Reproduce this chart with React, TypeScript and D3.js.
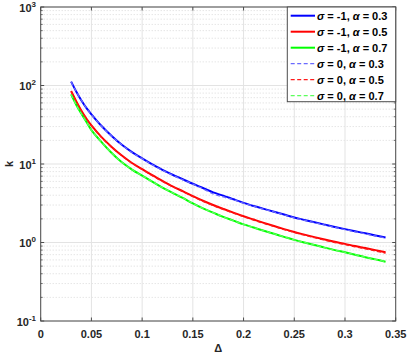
import React from "react";
import * as d3 from "d3";

const DELTA = [0.03,0.035,0.04,0.045,0.05,0.06,0.07,0.08,0.09,0.10,0.11,0.12,0.13,0.14,0.15,0.16,0.17,0.18,0.19,0.20,0.21,0.22,0.23,0.24,0.25,0.26,0.27,0.28,0.29,0.30,0.31,0.32,0.33,0.34];

const K_S1_A03 = [112,84,65,52,43,30.5,22.8,17.6,14.2,11.8,9.9,8.4,7.3,6.4,5.6,4.95,4.35,3.95,3.55,3.2,2.92,2.68,2.47,2.27,2.08,1.94,1.81,1.69,1.58,1.48,1.39,1.31,1.23,1.16];
const K_S1_A05 = [85,63,48,38,31,22,16.5,12.8,10.3,8.6,7.2,6.1,5.2,4.5,3.9,3.4,3.0,2.68,2.4,2.16,1.96,1.78,1.62,1.48,1.36,1.26,1.17,1.09,1.02,0.96,0.9,0.85,0.8,0.75];
const K_S1_A07 = [77,57,44,34.5,27,19,13.8,10.5,8.5,7.1,5.95,5.0,4.3,3.7,3.15,2.72,2.4,2.12,1.9,1.7,1.55,1.41,1.29,1.18,1.08,1.0,0.93,0.86,0.8,0.75,0.7,0.65,0.61,0.57];
const K_S0_A03 = [111,84,65,52,42.5,30.3,22.6,17.5,14.0,11.7,9.8,8.3,7.2,6.3,5.55,4.85,4.15,3.8,3.5,3.17,2.9,2.65,2.45,2.25,2.06,1.92,1.79,1.67,1.56,1.46,1.37,1.29,1.21,1.14];
const K_S0_A05 = [84,63,48,38,30.7,21.8,16.3,12.7,10.2,8.5,7.1,6.0,5.15,4.45,3.85,3.35,2.95,2.64,2.37,2.13,1.93,1.75,1.6,1.46,1.34,1.24,1.15,1.07,1.0,0.94,0.88,0.83,0.78,0.73];
const K_S0_A07 = [77,57,44,34.4,27,19,13.8,10.5,8.5,7.1,5.95,5.0,4.3,3.7,3.15,2.72,2.4,2.12,1.9,1.7,1.55,1.41,1.29,1.18,1.08,1.0,0.93,0.86,0.8,0.75,0.7,0.65,0.61,0.57];

const X_TICKS = [0,0.05,0.1,0.15,0.2,0.25,0.3,0.35];
const X_TICK_LABELS = ["0","0.05","0.1","0.15","0.2","0.25","0.3","0.35"];
const Y_EXPONENTS = [-1,0,1,2,3];

const SERIES = [
  { label: ["-1", "0.3"], values: K_S1_A03, color: "#0000ff", dash: null, width: 2 },
  { label: ["-1", "0.5"], values: K_S1_A05, color: "#ff0000", dash: null, width: 2 },
  { label: ["-1", "0.7"], values: K_S1_A07, color: "#00ff00", dash: null, width: 2 },
  { label: ["0", "0.3"], values: K_S0_A03, color: "#6a6aff", dash: "4,2.5", width: 1.3 },
  { label: ["0", "0.5"], values: K_S0_A05, color: "#ff1a1a", dash: "4,2.5", width: 1.3 },
  { label: ["0", "0.7"], values: K_S0_A07, color: "#5cff5c", dash: "4,2.5", width: 1.3 },
];

const FONT = "'Liberation Sans', Arial, Helvetica, sans-serif";

export default function App() {
  const left = 40.7, right = 395.7, top = 7, bottom = 321;
  const x = d3.scaleLinear().domain([0, 0.35]).range([left, right]);
  const y = d3.scaleLog().domain([0.1, 1000]).range([bottom, top]);
  const line = d3.line<number>()
    .x((_, i) => x(DELTA[i]))
    .y((d) => y(d))
    .curve(d3.curveCatmullRom.alpha(0.5));

  const minors: number[] = [];
  for (let e = -1; e < 3; e++) for (let m = 2; m <= 9; m++) minors.push(m * Math.pow(10, e));

  const axisColor = "#4d4d4d";
  const legX = 287.3, legY = 7, legW = right - 287.3, legH = 94.7;

  return (
    <svg width={407} height={354} style={{ position: "absolute", left: 0, top: 0, background: "#fff" }} fontFamily={FONT}>
      <rect x={0} y={0} width={407} height={354} fill="#fff" />
      {minors.map((v, i) => (
        <line key={"mg" + i} x1={left} x2={right} y1={y(v)} y2={y(v)} stroke="#d0d0d0" strokeWidth={0.8} strokeDasharray="1,2" />
      ))}
      {Y_EXPONENTS.map((e) => (
        <line key={"yg" + e} x1={left} x2={right} y1={y(Math.pow(10, e))} y2={y(Math.pow(10, e))} stroke="#e3e3e3" strokeWidth={1} />
      ))}
      {X_TICKS.map((t) => (
        <line key={"xg" + t} x1={x(t)} x2={x(t)} y1={top} y2={bottom} stroke="#e3e3e3" strokeWidth={1} />
      ))}
      {SERIES.map((s, i) => (
        <path key={"s" + i} d={line(s.values) || ""} fill="none" stroke={s.color} strokeWidth={s.width} strokeDasharray={s.dash || undefined} />
      ))}
      <rect x={left} y={top} width={right - left} height={bottom - top} fill="none" stroke={axisColor} strokeWidth={1} />
      {X_TICKS.map((t) => (
        <g key={"xt" + t}>
          <line x1={x(t)} x2={x(t)} y1={bottom} y2={bottom - 3.5} stroke={axisColor} />
          <line x1={x(t)} x2={x(t)} y1={top} y2={top + 3.5} stroke={axisColor} />
        </g>
      ))}
      {Y_EXPONENTS.map((e) => (
        <g key={"yt" + e}>
          <line x1={left} x2={left + 3.5} y1={y(Math.pow(10, e))} y2={y(Math.pow(10, e))} stroke={axisColor} />
          <line x1={right} x2={right - 3.5} y1={y(Math.pow(10, e))} y2={y(Math.pow(10, e))} stroke={axisColor} />
        </g>
      ))}
      {minors.map((v, i) => (
        <g key={"ymt" + i}>
          <line x1={left} x2={left + 2} y1={y(v)} y2={y(v)} stroke={axisColor} strokeWidth={0.8} />
          <line x1={right} x2={right - 2} y1={y(v)} y2={y(v)} stroke={axisColor} strokeWidth={0.8} />
        </g>
      ))}
      {X_TICKS.map((t, i) => (
        <text key={"xl" + t} x={x(t)} y={337.5} textAnchor="middle" fontSize={11} fontWeight="bold" fill="#262626">
          {X_TICK_LABELS[i]}
        </text>
      ))}
      {Y_EXPONENTS.map((e) => (
        <text key={"yl" + e} x={36} y={y(Math.pow(10, e)) + 4.5} textAnchor="end" fontSize={11} fontWeight="bold" fill="#262626">
          10<tspan fontSize={8} dy={-5}>{e}</tspan>
        </text>
      ))}
      <text x={x(0.175)} y={351.5} textAnchor="middle" fontSize={11} fontWeight="bold" fill="#262626">Δ</text>
      <text transform={`translate(12.5, ${(top + bottom) / 2}) rotate(-90)`} textAnchor="middle" fontSize={11} fontWeight="bold" fill="#262626">k</text>
      <rect x={legX} y={legY} width={legW} height={legH} fill="#fff" stroke={axisColor} strokeWidth={1} />
      {SERIES.map((s, i) => {
        const cy = 15.7 + i * 16;
        return (
          <g key={"lg" + i}>
            <line x1={290.7} x2={315} y1={cy} y2={cy} stroke={s.color} strokeWidth={s.width} strokeDasharray={s.dash || undefined} />
            <text x={317} y={cy + 4} fontSize={11} fontWeight="bold" fill="#000">
              <tspan fontStyle="italic">σ</tspan>{" = " + s.label[0] + ", "}<tspan fontStyle="italic">α</tspan>{" = " + s.label[1]}
            </text>
          </g>
        );
      })}
    </svg>
  );
}
